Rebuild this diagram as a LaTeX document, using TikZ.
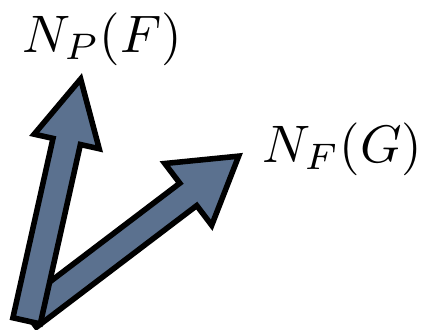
\documentclass[tikz,border=0pt]{standalone}
\usetikzlibrary{shapes.arrows}
\definecolor{arrowblue}{RGB}{91,113,143}
\tikzset{
  fatarrow/.style={single arrow, draw=black, fill=arrowblue, line width=1pt,
    inner xsep=0pt, inner ysep=2.025pt, outer sep=0pt, anchor=tail},
  lbl/.style={inner sep=0pt, anchor=base west}
}
\newcommand{\lbltext}[1]{\scalebox{0.95}{$#1$}}
\begin{document}
\begin{tikzpicture}[x=0.18pt, y=-0.18pt]
  \useasboundingbox (0,0) rectangle (422,329);

  \coordinate (o1) at (26.6,320.8);
  \coordinate (o2) at (28,316);

  \node[fatarrow, minimum height=47.6pt, minimum width=12.96pt,
    single arrow head extend=4.45pt, single arrow tip angle=63,
    rotate=37.2] (nf) at (o2) {};
  \node[fatarrow, minimum height=44.6pt, minimum width=10.98pt,
    single arrow head extend=3.47pt, single arrow tip angle=55,
    rotate=77.4] (np) at (o1) {};

  \node[lbl] (lnp) at (21,52) {\lbltext{N_P(F)}};
  \node[lbl] (lnf) at (261,162) {\lbltext{N_F(G)}};

\end{tikzpicture}
\end{document}
